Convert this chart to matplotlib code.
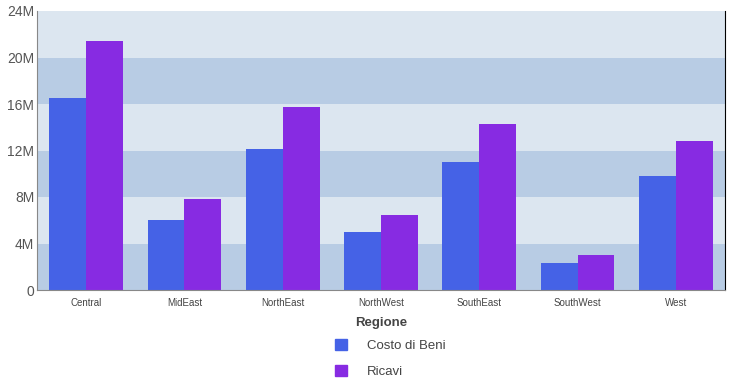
import numpy as np
import matplotlib.pyplot as plt
from matplotlib.patches import Patch

plt.rcParams['font.family'] = ['Liberation Sans', 'DejaVu Sans']

# Dati
regioni = ['Central', 'MidEast', 'NorthEast', 'NorthWest', 'SouthEast', 'SouthWest', 'West']
costo_beni = [16.5, 6.0, 12.1, 5.0, 11.0, 2.3, 9.8]   # milioni
ricavi = [21.4, 7.8, 15.7, 6.45, 14.3, 3.0, 12.8]     # milioni
y_ticks = [0, 4, 8, 12, 16, 20, 24]
y_labels = ['0', '4M', '8M', '12M', '16M', '20M', '24M']

col_costo = '#4562e6'
col_ricavi = '#872be2'
testo = '#444444'

fig = plt.figure(figsize=(7.38, 3.86), dpi=100)
ax = fig.add_axes([37 / 738, 96 / 386, 688 / 738, 279 / 386])

# Bande di sfondo alternate
for i in range(len(y_ticks) - 1):
    c = '#b8cce4' if i % 2 == 0 else '#dce6f0'
    ax.axhspan(y_ticks[i], y_ticks[i + 1], color=c, zorder=0, lw=0)

x = np.arange(len(regioni))
w = 0.375
ax.bar(x - w / 2, costo_beni, w, color=col_costo, zorder=2, label='Costo di Beni')
ax.bar(x + w / 2, ricavi, w, color=col_ricavi, zorder=2, label='Ricavi')

ax.set_xlim(-0.5, len(regioni) - 0.5)
ax.set_ylim(0, 24)
ax.set_yticks(y_ticks)
ax.set_yticklabels(y_labels, fontsize=10, color='#555555')
ax.set_xticks(x)
ax.set_xticklabels(regioni, fontsize=7, color=testo)
ax.tick_params(axis='both', length=0)
ax.tick_params(axis='x', pad=6)
ax.tick_params(axis='y', pad=2)

for s in ['left', 'bottom']:
    ax.spines[s].set_color('#888888')
ax.spines['top'].set_visible(False)
ax.spines['right'].set_color('black')

ax.set_xlabel('Regione', fontsize=9.5, fontweight='bold', color=testo, labelpad=6)

handles = [Patch(color=col_costo, label='Costo di Beni'),
           Patch(color=col_ricavi, label='Ricavi')]
fig.legend(handles=handles, loc='upper left', bbox_to_anchor=(323 / 738, 1 - 327 / 386),
           frameon=False, fontsize=9.5, handlelength=0.9, handleheight=0.9,
           handletextpad=1.5, labelspacing=1.0, labelcolor=testo)

fig.savefig('out.png', dpi=100)
